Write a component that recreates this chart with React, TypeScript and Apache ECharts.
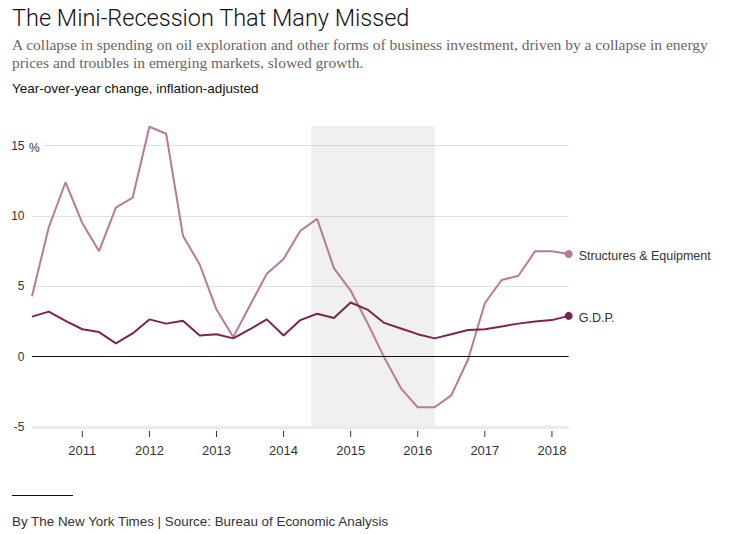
import React, { useEffect, useRef } from "react";
import * as echarts from "echarts";

const quarters = [
  "2010 Q2", "2010 Q3", "2010 Q4",
  "2011 Q1", "2011 Q2", "2011 Q3", "2011 Q4",
  "2012 Q1", "2012 Q2", "2012 Q3", "2012 Q4",
  "2013 Q1", "2013 Q2", "2013 Q3", "2013 Q4",
  "2014 Q1", "2014 Q2", "2014 Q3", "2014 Q4",
  "2015 Q1", "2015 Q2", "2015 Q3", "2015 Q4",
  "2016 Q1", "2016 Q2", "2016 Q3", "2016 Q4",
  "2017 Q1", "2017 Q2", "2017 Q3", "2017 Q4",
  "2018 Q1", "2018 Q2",
];

const structuresEquipment = [
  4.3, 9.2, 12.4, 9.5, 7.5, 10.6, 11.3, 16.35, 15.85, 8.6, 6.55, 3.35, 1.4,
  3.65, 5.9, 6.95, 8.95, 9.8, 6.3, 4.7, 2.4, -0.05, -2.25, -3.6, -3.6, -2.75,
  -0.2, 3.8, 5.45, 5.75, 7.5, 7.5, 7.3,
];

const gdp = [
  2.85, 3.2, 2.55, 1.95, 1.75, 0.95, 1.65, 2.65, 2.35, 2.55, 1.5, 1.6, 1.3,
  1.95, 2.65, 1.5, 2.6, 3.05, 2.75, 3.85, 3.35, 2.4, 2.0, 1.6, 1.3, 1.6, 1.9,
  1.95, 2.15, 2.35, 2.5, 2.6, 2.9,
];

const yearTicks = [2011, 2012, 2013, 2014, 2015, 2016, 2017, 2018];
const yTicks = [-5, 0, 5, 10, 15];
const recessionStart = 2014.41;
const recessionEnd = 2016.25;

const SANS = "'Liberation Sans', Arial, sans-serif";
const SERIF = "'Liberation Serif', Georgia, serif";

function quarterToX(q: string): number {
  const [y, qq] = q.split(" Q");
  return Number(y) + (Number(qq) - 1) / 4;
}

export default function App() {
  const ref = useRef<HTMLDivElement>(null);

  useEffect(() => {
    if (!ref.current) return;
    const chart = echarts.init(ref.current, null, { renderer: "svg" });
    const xs = quarters.map(quarterToX);
    const last = quarters.length - 1;
    const endSymbol = (_v: any, p: any) => (p.dataIndex === last ? 8 : 0);
    const yMin = yTicks[0];

    chart.setOption({
      animation: false,
      backgroundColor: "#fff",
      grid: { left: 32, right: 167.3, top: 126, bottom: 107, containLabel: false },
      xAxis: {
        type: "value",
        min: xs[0],
        max: xs[last],
        offset: 4,
        axisLine: { show: false },
        splitLine: { show: false },
        axisTick: { show: false },
        axisLabel: {
          customValues: yearTicks,
          formatter: (v: number) => String(v),
          margin: 13,
          fontSize: 13,
          color: "#333",
          fontFamily: SANS,
        },
      },
      yAxis: {
        type: "value",
        min: yMin,
        max: 16.4,
        interval: 5,
        axisLine: { show: false },
        axisTick: { show: false },
        axisLabel: {
          showMaxLabel: false,
          formatter: (v: number) => (yTicks.includes(v) ? String(v) : ""),
          margin: 7.5,
          fontSize: 12,
          color: "#333",
          fontFamily: SANS,
          padding: [6, 0, 0, 0],
        },
        splitLine: {
          show: true,
          showMinLine: false,
          showMaxLine: false,
          lineStyle: { color: "#e2e2e2", width: 1 },
        },
      },
      graphic: [
        {
          type: "text",
          left: 12,
          top: 6,
          style: {
            text: "The Mini-Recession That Many Missed",
            font: `300 23.5px Roboto, sans-serif`,
            fill: "#111",
          },
        },
        {
          type: "text",
          left: 12,
          top: 35,
          style: {
            text:
              "A collapse in spending on oil exploration and other forms of business investment, driven by a collapse in energy\nprices and troubles in emerging markets, slowed growth.",
            font: `15.5px ${SERIF}`,
            lineHeight: 18,
            fill: "#666",
          },
        },
        {
          type: "text",
          left: 12,
          top: 81,
          style: {
            text: "Year-over-year change, inflation-adjusted",
            font: `13.5px ${SANS}`,
            fill: "#111",
          },
        },
        {
          type: "text",
          x: 28,
          y: 148,
          z: 100,
          style: {
            text: "%",
            font: `12px ${SANS}`,
            fill: "#333",
            verticalAlign: "middle",
            backgroundColor: "#fff",
            padding: [1, 4, 1, 1],
          },
        },
        {
          type: "line",
          shape: { x1: 12, y1: 495.5, x2: 73, y2: 495.5 },
          style: { stroke: "#111", lineWidth: 1 },
        },
        {
          type: "text",
          left: 12,
          top: 515,
          style: {
            text: "By The New York Times | Source: Bureau of Economic Analysis",
            font: `13.4px ${SANS}`,
            fill: "#333",
          },
        },
      ],
      series: [
        {
          name: "Structures & Equipment",
          type: "line",
          data: xs.map((x, i) => [x, structuresEquipment[i]]),
          symbol: "circle",
          symbolSize: endSymbol,
          showAllSymbol: true,
          lineStyle: { color: "#b77b93", width: 2 },
          itemStyle: { color: "#b77b93" },
          endLabel: {
            show: true,
            formatter: "{a}",
            distance: 10,
            offset: [0, 2],
            color: "#333",
            fontSize: 12.5,
            fontFamily: SANS,
          },
          markArea: {
            silent: true,
            itemStyle: { color: "rgba(110,110,90,0.1)" },
            data: [[{ xAxis: recessionStart }, { xAxis: recessionEnd }]],
          },
          markLine: {
            silent: true,
            symbol: "none",
            label: { show: false },
            data: [
              { yAxis: 0, lineStyle: { color: "#111", width: 1, type: "solid" } },
              { yAxis: yMin, lineStyle: { color: "#ebebeb", width: 3, type: "solid" } },
            ],
          },
          z: 3,
        },
        {
          name: "G.D.P.",
          type: "line",
          data: xs.map((x, i) => [x, gdp[i]]),
          symbol: "circle",
          symbolSize: endSymbol,
          showAllSymbol: true,
          lineStyle: { color: "#7b2452", width: 2 },
          itemStyle: { color: "#7b2452" },
          endLabel: {
            show: true,
            formatter: "{a}",
            distance: 10,
            offset: [0, 2],
            color: "#333",
            fontSize: 12.5,
            fontFamily: SANS,
          },
          z: 4,
        },
        {
          name: "year ticks",
          type: "custom",
          clip: false,
          silent: true,
          encode: { x: 0, y: 1 },
          data: yearTicks.map((y) => [y, yMin]),
          renderItem: (_params: any, api: any) => {
            const p = api.coord([api.value(0), api.value(1)]);
            return {
              type: "line",
              shape: { x1: p[0], y1: p[1] + 4, x2: p[0], y2: p[1] + 10 },
              style: { stroke: "#333", lineWidth: 1 },
            };
          },
          z: 2,
        },
      ],
    });

    return () => chart.dispose();
  }, []);

  return (
    <div
      ref={ref}
      style={{ position: "fixed", left: 0, top: 0, width: 736, height: 534 }}
    />
  );
}
